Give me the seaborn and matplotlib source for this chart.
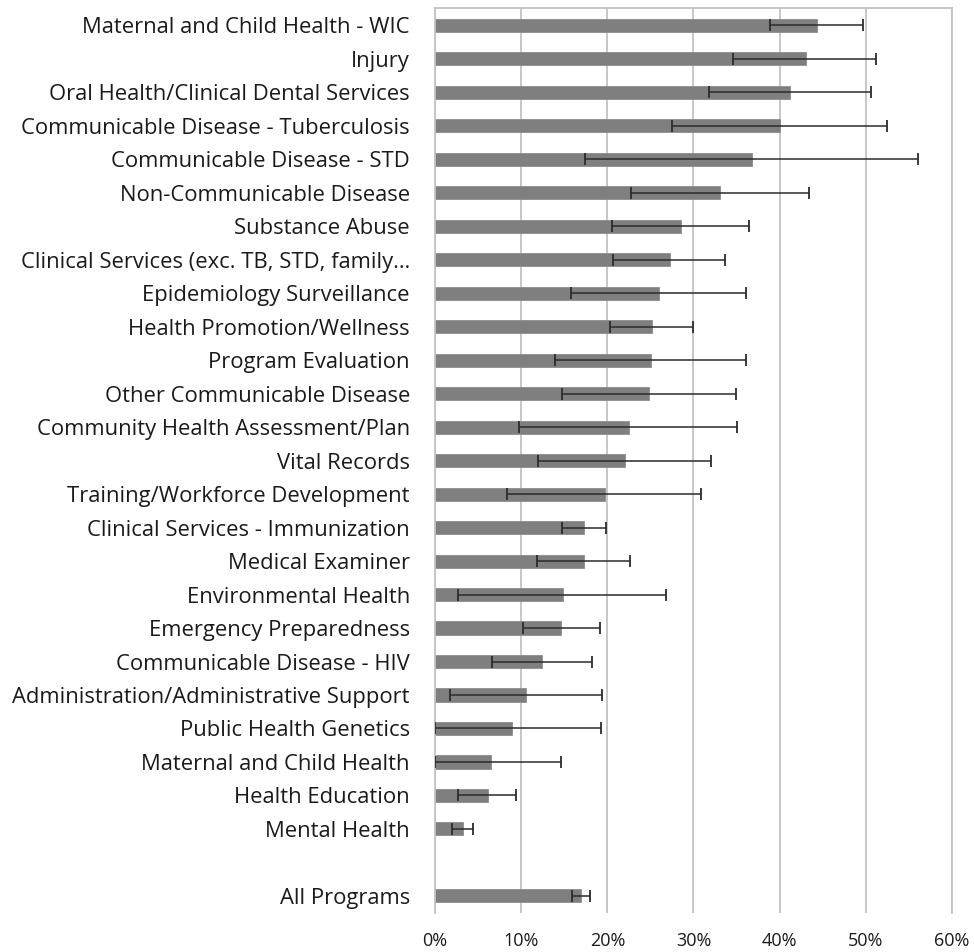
import matplotlib
matplotlib.use("Agg")
import matplotlib.pyplot as plt
import seaborn as sns
import pandas as pd
import numpy as np
from matplotlib.ticker import PercentFormatter

categories = [
    "Maternal and Child Health - WIC",
    "Injury",
    "Oral Health/Clinical Dental Services",
    "Communicable Disease - Tuberculosis",
    "Communicable Disease - STD",
    "Non-Communicable Disease",
    "Substance Abuse",
    "Clinical Services (exc. TB, STD, family\u2026",
    "Epidemiology Surveillance",
    "Health Promotion/Wellness",
    "Program Evaluation",
    "Other Communicable Disease",
    "Community Health Assessment/Plan",
    "Vital Records",
    "Training/Workforce Development",
    "Clinical Services - Immunization",
    "Medical Examiner",
    "Environmental Health",
    "Emergency Preparedness",
    "Communicable Disease - HIV",
    "Administration/Administrative Support",
    "Public Health Genetics",
    "Maternal and Child Health",
    "Health Education",
    "Mental Health",
    "All Programs",
]
values = [44.3, 43.0, 41.2, 40.0, 36.8, 33.1, 28.6, 27.3, 26.0, 25.2, 25.1, 24.8,
          22.5, 22.0, 19.7, 17.3, 17.3, 14.8, 14.6, 12.4, 10.6, 8.9, 6.5, 6.1, 3.2,
          17.0]
ci_low = [38.9, 34.6, 31.8, 27.5, 17.4, 22.8, 20.5, 20.7, 15.8, 20.3, 13.9, 14.7,
          9.8, 12.0, 8.3, 14.7, 11.8, 2.7, 10.2, 6.6, 1.8, 0.0, 0.0, 2.7, 2.0,
          15.9]
ci_high = [49.7, 51.2, 50.6, 52.5, 56.0, 43.4, 36.5, 33.6, 36.1, 29.9, 36.1, 34.9,
           35.0, 32.0, 30.9, 19.8, 22.6, 26.8, 19.1, 18.2, 19.4, 19.3, 14.6, 9.4, 4.4,
           18.0]
x_ticks = [0, 10, 20, 30, 40, 50, 60]

df = pd.DataFrame({"program": categories, "pct": values,
                   "low": ci_low, "high": ci_high})

# order with an empty spacer slot before "All Programs"
order = categories[:-1] + [" "] + categories[-1:]

sns.set_theme(style="white")
plt.rcParams["font.family"] = ["Open Sans", "DejaVu Sans"]

fig = plt.figure(figsize=(9.74, 9.52), dpi=100)
ax = fig.add_axes([0.4466, 0.0413, 0.9774 - 0.4466, 0.9911 - 0.0413])

sns.barplot(data=df, y="program", x="pct", order=order, ax=ax,
            color="#7f7f7f", saturation=1, width=0.39,
            edgecolor="#8c8c8c", linewidth=0.6, errorbar=None)

pos = [order.index(c) for c in df["program"]]
xerr = np.vstack([df["pct"] - df["low"], df["high"] - df["pct"]])
ax.errorbar(df["pct"], pos, xerr=xerr, fmt="none", ecolor="#2b2b2b",
            elinewidth=1.1, capsize=4.5, capthick=1.3, zorder=5)

ax.set_xlim(0, 60)
ax.set_ylim(len(order) - 0.5, -0.5)
ax.set_xticks(x_ticks)
ax.xaxis.set_major_formatter(PercentFormatter(decimals=0))
ax.set_xlabel("")
ax.set_ylabel("")
ax.grid(axis="x", color="#c3c3c3", linewidth=1.3)
ax.grid(axis="y", visible=False)
ax.set_axisbelow(True)
for side in ["top", "left", "right"]:
    ax.spines[side].set_visible(True)
    ax.spines[side].set_color("#c3c3c3")
    ax.spines[side].set_linewidth(1.3)
ax.spines["bottom"].set_visible(False)
ax.tick_params(axis="y", length=0, labelsize=15.8, colors="#1a1a1a", pad=18)
ax.tick_params(axis="x", length=0, labelsize=13, colors="#1a1a1a", pad=14)

fig.savefig("out.png", dpi=100)
